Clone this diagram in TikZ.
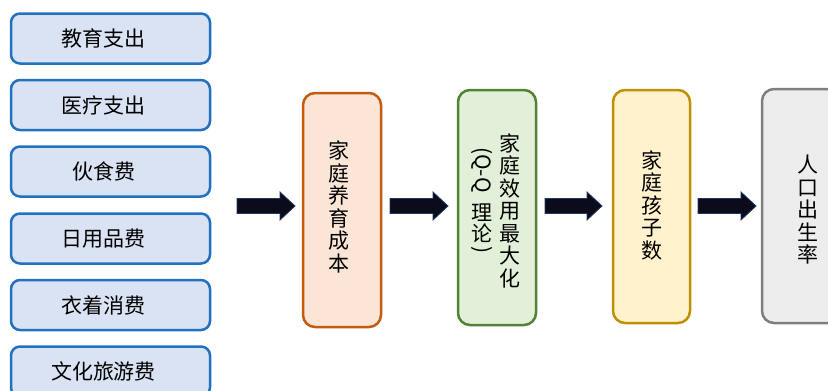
\documentclass[tikz,border=0pt]{standalone}
\usepackage{fontspec}
\setmainfont{Noto Sans CJK SC}
\usetikzlibrary{calc}
\definecolor{lbBorder}{HTML}{2270C0}
\definecolor{lbFill}{HTML}{DAE3F3}
\definecolor{oBorder}{HTML}{C55A11}
\definecolor{oFill}{HTML}{FBE5D6}
\definecolor{gBorder}{HTML}{548235}
\definecolor{gFill}{HTML}{E2F0D9}
\definecolor{yBorder}{HTML}{BF9000}
\definecolor{yFill}{HTML}{FFF2CC}
\definecolor{kBorder}{HTML}{7F7F7F}
\definecolor{kFill}{HTML}{EDEDED}
\definecolor{arrFill}{HTML}{0B0B1A}
\definecolor{arrBorder}{HTML}{1F3864}
\tikzset{
  leftbox/.style={draw=lbBorder, fill=lbFill, line width=2.5pt, rounded corners=9pt,
    minimum width=199pt, minimum height=50pt, inner sep=0pt},
  lefttext/.style={inner sep=0pt, font=\fontsize{21}{21}\selectfont},
  flowbox/.style={line width=2.5pt, rounded corners=12pt, inner sep=0pt},
  vtext/.style={align=center, inner sep=0pt, font=\fontsize{21}{22.5}\selectfont},
  ctext/.style={inner sep=0pt, font=\fontsize{21}{21}\selectfont},
  blockarr/.style={fill=arrFill, draw=arrBorder, line width=0.8pt},
}
\newcommand\myblockarrow[2]{%
  \path let \p1=(#1), \p2=(#2) in
    [blockarr] (\x1,\y1+7.5pt) -- (\x2-15pt,\y1+7.5pt) -- (\x2-15pt,\y1+14pt) -- (\x2,\y1)
    -- (\x2-15pt,\y1-14pt) -- (\x2-15pt,\y1-7.5pt) -- (\x1,\y1-7.5pt) -- cycle;}
\begin{document}
\begin{tikzpicture}[x=1pt, y=-1pt]
\useasboundingbox (0,0) rectangle (828,391);
\clip (0,0) rectangle (828,391);
% left column
\node[leftbox] (L1) at (110.5,38.5) {};
\node[leftbox] (L2) at (110.5,105) {};
\node[leftbox] (L3) at (110.5,171.5) {};
\node[leftbox] (L4) at (110.5,238.5) {};
\node[leftbox] (L5) at (110.5,305) {};
\node[leftbox] (L6) at (110.5,371.5) {};
\node[lefttext] (L1t) at ($(L1)+(-7,0)$) {教育支出};
\node[lefttext] (L2t) at ($(L2)+(-7,0)$) {医疗支出};
\node[lefttext] (L3t) at ($(L3)+(-7,0)$) {伙食费};
\node[lefttext] (L4t) at ($(L4)+(-7,0)$) {日用品费};
\node[lefttext] (L5t) at ($(L5)+(-7,0)$) {衣着消费};
\node[lefttext] (L6t) at ($(L6)+(-7,0)$) {文化旅游费};
% flow boxes
\draw[flowbox, draw=oBorder, fill=oFill] (303,93) rectangle (381,327);
\node (A) at (342,210) {};
\node[vtext] (At) at (339,207) {家\\庭\\养\\育\\成\\本};
\draw[flowbox, draw=gBorder, fill=gFill] (458,90) rectangle (536,325);
\node (B) at (497,207.5) {};
\node[vtext] (Bt1) at (510,210.5) {家\\庭\\效\\用\\最\\大\\化};
\node[ctext, rotate=-90] (Bq) at (482,170) {(Q-Q};
\node[ctext] (Bli) at (482,213) {理};
\node[ctext] (Blun) at (482,233.5) {论};
\node[ctext, rotate=-90] (Bp2) at (482,250) {)};
\draw[flowbox, draw=yBorder, fill=yFill] (613,90) rectangle (690,323);
\node (C) at (651.5,206.5) {};
\node[vtext] (Ct) at (651.5,205) {家\\庭\\孩\\子\\数};
\draw[flowbox, draw=kBorder, fill=kFill] (762,89) rectangle (860,323);
\node (D) at (811,206) {};
\node[vtext] (Dt) at (808,210) {人\\口\\出\\生\\率};
% arrows
\coordinate (a1s) at (237,206); \coordinate (a1e) at (295,206);
\coordinate (a2s) at (390,206); \coordinate (a2e) at (448,206);
\coordinate (a3s) at (545,206); \coordinate (a3e) at (602,206);
\coordinate (a4s) at (698,206); \coordinate (a4e) at (756,206);
\myblockarrow{a1s}{a1e}
\myblockarrow{a2s}{a2e}
\myblockarrow{a3s}{a3e}
\myblockarrow{a4s}{a4e}
\end{tikzpicture}
\end{document}
